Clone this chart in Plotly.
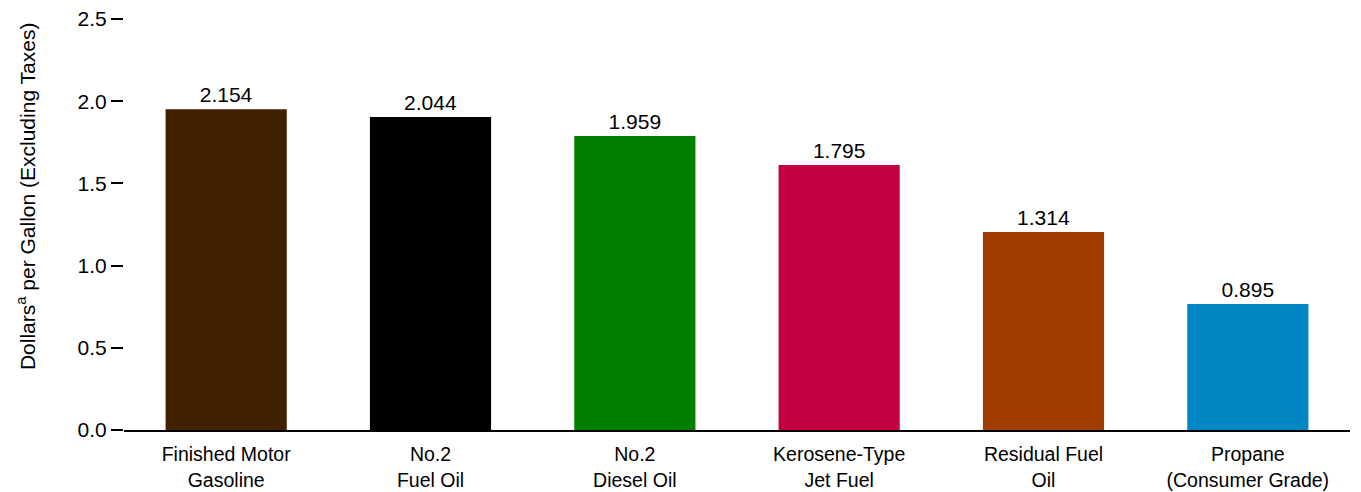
import plotly.graph_objects as go

categories = ["Finished Motor<br>Gasoline", "No.2<br>Fuel Oil", "No.2<br>Diesel Oil",
              "Kerosene-Type<br>Jet Fuel", "Residual Fuel<br>Oil", "Propane<br>(Consumer Grade)"]
bar_heights = [1.951, 1.904, 1.788, 1.612, 1.204, 0.766]
bar_labels = ["2.154", "2.044", "1.959", "1.795", "1.314", "0.895"]
bar_colors = ["#402200", "#000000", "#007F00", "#C20042", "#A03E00", "#0086C3"]
y_ticks = [0.0, 0.5, 1.0, 1.5, 2.0, 2.5]

font = "Liberation Sans, Arial, sans-serif"

fig = go.Figure(
    go.Bar(
        x=categories,
        y=bar_heights,
        text=bar_labels,
        textposition="outside",
        textfont=dict(size=21, color="#000000", family=font),
        marker=dict(color=bar_colors, line=dict(width=0)),
        cliponaxis=False,
        hoverinfo="skip",
    )
)

# page body has an 8px margin, so margins are shifted accordingly
fig.update_layout(
    width=1361,
    height=492,
    margin=dict(l=116, r=19, t=11, b=70),
    plot_bgcolor="white",
    paper_bgcolor="white",
    bargap=0.407,
    showlegend=False,
    font=dict(family=font, color="#000000"),
)

fig.update_xaxes(
    automargin=False,
    showline=True,
    linecolor="#000000",
    linewidth=2,
    ticks="",
    ticklabelstandoff=6,
    tickfont=dict(size=19.5),
    showgrid=False,
)

fig.update_yaxes(
    automargin=False,
    range=[0, 2.5],
    tickvals=y_ticks,
    ticktext=[f"{v:.1f}" for v in y_ticks],
    ticks="outside",
    ticklen=12,
    tickwidth=2,
    tickcolor="#000000",
    tickfont=dict(size=21),
    ticklabeloverflow="allow",
    showgrid=False,
    zeroline=False,
    showline=False,
)

fig.add_annotation(
    text="Dollars<sup>a</sup> per Gallon (Excluding Taxes)",
    xref="paper", yref="paper",
    x=-0.08, y=0.569,
    xanchor="center", yanchor="middle",
    textangle=-90,
    showarrow=False,
    font=dict(size=21),
)

fig.write_html("out.html")
